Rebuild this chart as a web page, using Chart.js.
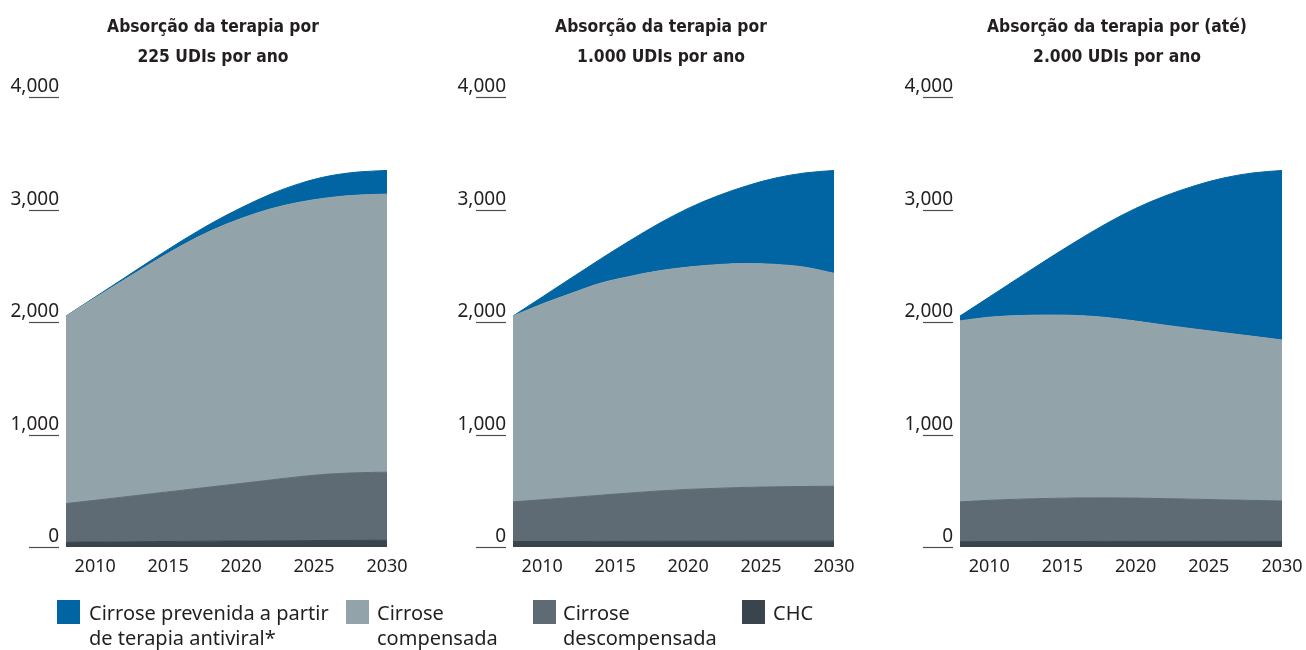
<!DOCTYPE html>
<html>
<head>
<meta charset="utf-8">
<script src="https://cdn.jsdelivr.net/npm/chart.js@4.4.0/dist/chart.umd.min.js"></script>
<style>
html,body{margin:0;padding:0;background:#fff;overflow:hidden;width:1306px;height:650px;position:relative;}
canvas.panel{position:absolute;top:0;}
.lg{position:absolute;top:600px;font-family:'Noto Sans',sans-serif;font-size:20px;line-height:25px;color:#231f20;white-space:nowrap;}
.sw{position:absolute;top:600px;width:23px;height:24px;}
</style>
</head>
<body>
<canvas id="c1" class="panel" style="left:0px" width="426" height="650"></canvas>
<canvas id="c2" class="panel" style="left:447px" width="428" height="650"></canvas>
<canvas id="c3" class="panel" style="left:894px" width="446" height="650"></canvas>

<div class="sw" style="left:57px;background:#0065a2"></div>
<div class="lg" style="left:89px">Cirrose prevenida a partir<br>de terapia antiviral*</div>
<div class="sw" style="left:346px;background:#92a3aa"></div>
<div class="lg" style="left:377px">Cirrose<br>compensada</div>
<div class="sw" style="left:533px;background:#5e6b74"></div>
<div class="lg" style="left:563px">Cirrose<br>descompensada</div>
<div class="sw" style="left:742px;background:#3a444c"></div>
<div class="lg" style="left:773px">CHC</div>

<script>
// ---- data ----
const years = [2008, 2010, 2012, 2014, 2016, 2018, 2020, 2022, 2024, 2026, 2028, 2030];
const xTicks = [2010, 2015, 2020, 2025, 2030];
const yTicks = [0, 1000, 2000, 3000, 4000];
const seriesNames = ['CHC', 'Cirrose descompensada', 'Cirrose compensada', 'Cirrose prevenida a partir de terapia antiviral*'];

const title1 = ['Absorção da terapia por', '225 UDIs por ano'];
const title2 = ['Absorção da terapia por', '1.000 UDIs por ano'];
const title3 = ['Absorção da terapia por (até)', '2.000 UDIs por ano'];

const chc1  = [42, 44, 46, 48, 50, 52, 53, 55, 56, 58, 59, 60];
const desc1 = [344, 371, 399, 427, 455, 483, 512, 540, 569, 590, 601, 605];
const comp1 = [1667, 1800, 1930, 2060, 2180, 2280, 2355, 2410, 2440, 2457, 2468, 2472];
const prev1 = [0, 7, 17, 27, 42, 65, 95, 130, 165, 192, 205, 210];

const chc2  = [48, 49, 49, 50, 50, 51, 51, 51, 52, 52, 52, 52];
const desc2 = [353, 371, 391, 410, 430, 447, 461, 471, 478, 483, 486, 488];
const comp2 = [1652, 1740, 1815, 1885, 1925, 1957, 1976, 1988, 1990, 1977, 1949, 1893];
const prev2 = [0, 62, 137, 215, 317, 420, 522, 610, 690, 768, 838, 914];

const chc3  = [47, 48, 48, 49, 49, 50, 50, 50, 50, 50, 50, 50];
const desc3 = [354, 367, 377, 383, 387, 387, 385, 380, 375, 369, 364, 359];
const comp3 = [1609, 1628, 1632, 1630, 1622, 1603, 1573, 1542, 1513, 1486, 1459, 1431];
const prev3 = [43, 179, 335, 498, 664, 835, 1002, 1148, 1272, 1375, 1452, 1507];

// ---- style ----
const colors = ['#3a444c', '#5e6b74', '#92a3aa', '#0065a2'];
const textColor = '#231f20';

// pick a condensed bold face for the titles when one is installed
const mc = document.createElement('canvas').getContext('2d');
const sample = 'Absorção da terapia por';
function widthOf(font) { mc.font = font; return mc.measureText(sample).width; }
function fontAvail(fam) {
  return Math.abs(widthOf('bold 40px monospace') - widthOf('bold 40px "' + fam + '", monospace')) > 0.5;
}
let titleFam = 'Noto Sans', titleStyle = '';
const wNormal = widthOf('bold 20px "Noto Sans"');
const wCond = widthOf('condensed bold 20px "Noto Sans"');
if (wCond < wNormal - 1) {
  titleStyle = 'condensed';
} else {
  for (const f of ['Noto Sans Condensed', 'Liberation Sans Narrow', 'DejaVu Sans Condensed']) {
    if (fontAvail(f)) { titleFam = f; break; }
  }
}
const tw = widthOf((titleStyle ? titleStyle + ' ' : '') + 'bold 20px "' + titleFam + '"');
const titleSize = Math.max(14, Math.min(23, 20 * 212 / tw));

const underline = {
  id: 'underline',
  afterDraw(chart) {
    const ys = chart.scales.y, ctx = chart.ctx, L = chart.chartArea.left;
    ctx.save();
    ctx.strokeStyle = '#4d4d4f';
    ctx.lineWidth = 1.2;
    yTicks.forEach(v => {
      const py = Math.round(ys.getPixelForValue(v)) + 0.5;
      ctx.beginPath();
      ctx.moveTo(L - 37, py);
      ctx.lineTo(L - 7, py);
      ctx.stroke();
    });
    ctx.restore();
  }
};

function makeChart(id, title, series, padRight) {
  const datasets = series.map((d, i) => ({
    label: seriesNames[i],
    data: d,
    backgroundColor: colors[i],
    borderColor: colors[i],
    borderWidth: 1,
    pointRadius: 0,
    fill: i === 0 ? 'origin' : '-1',
    cubicInterpolationMode: 'monotone'
  }));
  const tfont = { family: "'" + titleFam + "', 'Noto Sans', sans-serif", size: titleSize, weight: 'bold', lineHeight: '30px' };
  if (titleStyle) tfont.style = titleStyle;
  return new Chart(document.getElementById(id), {
    type: 'line',
    data: { labels: years, datasets },
    plugins: [underline],
    options: {
      responsive: false,
      animation: false,
      devicePixelRatio: 1,
      layout: { padding: 0 },
      plugins: {
        legend: { display: false },
        tooltip: { enabled: false },
        title: {
          display: true,
          text: title,
          color: textColor,
          align: 'center',
          font: tfont,
          padding: { top: 12, bottom: 25 }
        }
      },
      scales: {
        x: {
          type: 'linear',
          min: 2008, max: 2030,
          grid: { display: false, drawTicks: false },
          border: { display: false },
          afterBuildTicks: s => { s.ticks = xTicks.map(v => ({ value: v })); },
          afterFit: s => { s.height = 103; s.paddingRight = padRight; s.paddingLeft = 0; },
          ticks: {
            color: textColor, padding: 9, maxRotation: 0, autoSkip: false,
            font: { family: "'Noto Sans', sans-serif", size: 18 },
            callback: v => String(v)
          }
        },
        y: {
          stacked: true,
          min: 0, max: 4000,
          grid: { display: false, drawTicks: false },
          border: { display: false },
          afterBuildTicks: s => { s.ticks = yTicks.map(v => ({ value: v })); },
          afterFit: s => { s.width = 66; },
          ticks: {
            color: textColor, padding: 7, labelOffset: -10,
            font: { family: "'Noto Sans', sans-serif", size: 19 },
            callback: v => v.toLocaleString('en-US')
          }
        }
      }
    }
  });
}

makeChart('c1', title1, [chc1, desc1, comp1, prev1], 39);
makeChart('c2', title2, [chc2, desc2, comp2, prev2], 41);
makeChart('c3', title3, [chc3, desc3, comp3, prev3], 58);
</script>
</body>
</html>
